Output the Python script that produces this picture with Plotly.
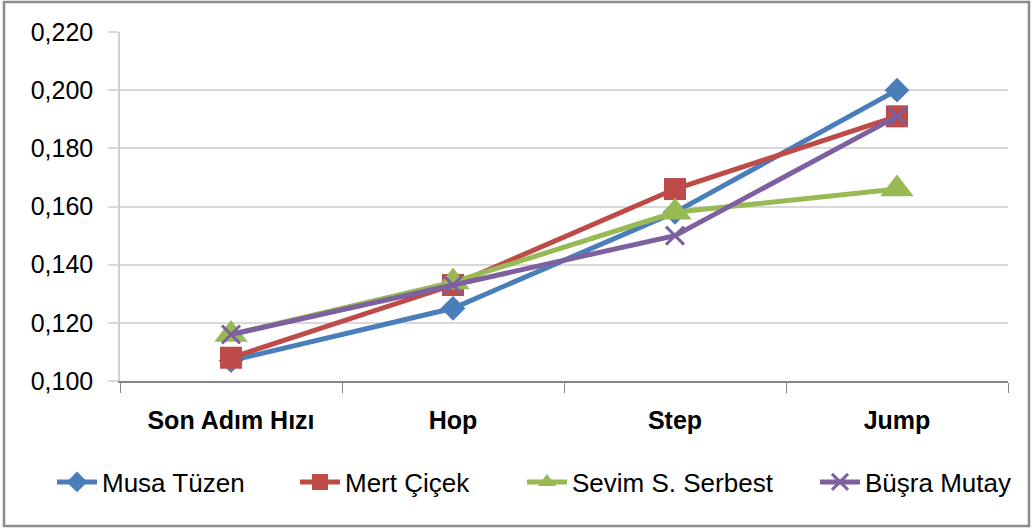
import plotly.graph_objects as go

categories = ["Son Adım Hızı", "Hop", "Step", "Jump"]
musa = [0.107, 0.125, 0.158, 0.200]
mert = [0.108, 0.133, 0.166, 0.191]
sevim = [0.116, 0.134, 0.158, 0.166]
busra = [0.116, 0.133, 0.150, 0.191]
y_ticks = [0.100, 0.120, 0.140, 0.160, 0.180, 0.200, 0.220]
series_names = ["Musa Tüzen", "Mert Çiçek", "Sevim S. Serbest", "Büşra Mutay"]

W, H = 1032, 532
ML, MR, MT, MB = 120, 24, 32, 151
PW, PH = W - ML - MR, H - MT - MB
FONT = "Liberation Sans, Arial, sans-serif"


def px_x(p):
    return (p - ML) / PW


def px_y(p):
    return (H - MB - p) / PH


fig = go.Figure()
fig.add_trace(go.Scatter(x=categories, y=musa, name=series_names[0], mode="lines+markers",
                         legend="legend",
                         line=dict(color="#4A7EBB", width=5),
                         marker=dict(symbol="diamond", size=19, color="#4A7EBB")))
fig.add_trace(go.Scatter(x=categories, y=mert, name=series_names[1], mode="lines+markers",
                         legend="legend2",
                         line=dict(color="#BE4B48", width=5),
                         marker=dict(symbol="square", size=22, color="#BE4B48")))
fig.add_trace(go.Scatter(x=categories, y=sevim, name=series_names[2], mode="lines+markers",
                         legend="legend3",
                         line=dict(color="#98B954", width=5),
                         marker=dict(symbol="triangle-up", size=29, color="#98B954")))
fig.add_trace(go.Scatter(x=categories, y=busra, name=series_names[3], mode="lines+markers",
                         legend="legend4",
                         line=dict(color="#7D60A0", width=5),
                         marker=dict(symbol="x-thin", size=18, color="#7D60A0",
                                     line=dict(color="#7D60A0", width=3))))

legend_text_starts = [103, 346, 573, 866]
legends = {}
for i, tx in enumerate(legend_text_starts):
    key = "legend" if i == 0 else f"legend{i + 1}"
    legends[key] = dict(orientation="h", x=px_x(tx - 51), xanchor="left",
                        y=px_y(482), yanchor="middle",
                        font=dict(size=26, family=FONT), itemwidth=40,
                        bgcolor="rgba(0,0,0,0)")

fig.update_layout(
    width=W, height=H,
    margin=dict(l=ML, r=MR, t=MT, b=MB),
    paper_bgcolor="white", plot_bgcolor="white",
    separators=",.",
    font=dict(family=FONT, size=25, color="black"),
    showlegend=True,
    xaxis=dict(type="category", range=[-0.5, 3.5], showgrid=False,
               showline=True, linecolor="#868686", linewidth=1.5,
               ticks="outside", tickson="boundaries", ticklen=10, tickcolor="#868686",
               tickfont=dict(size=25, family=FONT, weight="bold"),
               ticklabelstandoff=16, zeroline=False, fixedrange=True),
    yaxis=dict(range=[0.100, 0.220], tickvals=y_ticks, tickformat=".3f",
               tickfont=dict(size=25, family=FONT),
               showgrid=True, gridcolor="#D9D9D9", gridwidth=1.5,
               showline=True, linecolor="#D0D0D0", linewidth=1.5,
               ticks="outside", ticklen=10, tickcolor="#D9D9D9", tickwidth=1.5,
               ticklabelstandoff=10, zeroline=False, fixedrange=True),
    shapes=[dict(type="rect", xref="paper", yref="paper",
                 x0=px_x(4), x1=px_x(1029), y0=px_y(526), y1=px_y(2),
                 line=dict(color="#8C8C8C", width=2.5), fillcolor="rgba(0,0,0,0)", layer="below")],
    **legends,
)

fig.write_html("out.html", config={"displayModeBar": False},
               post_script="document.body.style.margin='0';document.body.style.overflow='hidden';")
